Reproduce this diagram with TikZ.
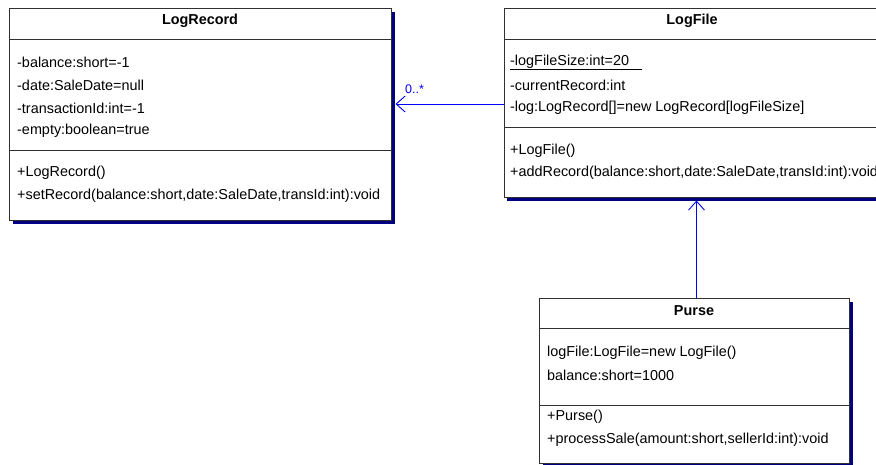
\documentclass[tikz,border=0pt]{standalone}
\usepackage{fontspec}
\setmainfont{Liberation Sans}
\usetikzlibrary{arrows.meta}
\definecolor{boxline}{HTML}{303030}
\definecolor{shadowc}{HTML}{000080}
\definecolor{assoc}{HTML}{0000FF}
\tikzset{
  classbox/.style={draw=boxline, line width=1pt, fill=white, anchor=north west, inner sep=0pt},
  shadowbox/.style={fill=shadowc, draw=none, anchor=north west, inner sep=0pt},
  sep/.style={draw=boxline, line width=1pt},
  title/.style={font=\fontsize{14.4}{16}\selectfont\bfseries, inner sep=0pt, anchor=center},
  member/.style={font=\fontsize{14.4}{16}\selectfont, inner sep=0pt, anchor=west},
  assocline/.style={draw=assoc, line width=0.9pt, -{Straight Barb[length=9pt,width=16pt,line width=0.9pt]}},
  mult/.style={font=\fontsize{12.5}{14}\selectfont, text=assoc, inner sep=0pt, anchor=west}
}
\begin{document}
\begin{tikzpicture}[x=1pt,y=-1pt]
\useasboundingbox (0,0) rectangle (876,464);
\clip (0,0) rectangle (876,464);
% LogRecord
\node[shadowbox, minimum width=382pt, minimum height=212pt] (lrs) at (13,12) {};
\node[classbox, minimum width=382pt, minimum height=212pt] (lr) at (9,8) {};
\draw[sep] (9,39) -- (391,39);
\draw[sep] (9,150) -- (391,150);
\node[title] (lrt) at (200,21) {LogRecord};
\node[member] (lr1) at (17,62.5) {-balance:short=-1};
\node[member] (lr2) at (17,85.5) {-date:SaleDate=null};
\node[member] (lr3) at (17,108.5) {-transactionId:int=-1};
\node[member] (lr4) at (17,131) {-empty:boolean=true};
\node[member] (lr5) at (17,173) {+LogRecord()};
\node[member] (lr6) at (17,196) {+setRecord(balance:short,date:SaleDate,transId:int):void};
% LogFile
\node[shadowbox, minimum width=400pt, minimum height=189pt] (lfs) at (507,12) {};
\node[classbox, minimum width=400pt, minimum height=189pt] (lf) at (503.5,8) {};
\draw[sep] (503.5,39) -- (905,39);
\draw[sep] (503.5,127) -- (905,127);
\node[title] (lft) at (692,21) {LogFile};
\node[member] (lf1) at (510,62) {-logFileSize:int=20};
\draw[line width=0.7pt] (510,69.5) -- (642,69.5);
\node[member] (lf2) at (510,85.5) {-currentRecord:int};
\node[member] (lf3) at (510,108) {-log:LogRecord[]=new LogRecord[logFileSize]};
\node[member] (lf4) at (510,150.5) {+LogFile()};
\node[member] (lf5) at (510,173) {+addRecord(balance:short,date:SaleDate,transId:int):void};
% Purse
\node[shadowbox, minimum width=310pt, minimum height=165pt] (ps) at (543,301.5) {};
\node[classbox, minimum width=310pt, minimum height=165pt] (p) at (539,297.5) {};
\draw[sep] (539,328.5) -- (849,328.5);
\draw[sep] (539,405.5) -- (849,405.5);
\node[title] (pt) at (694,310.5) {Purse};
\node[member] (p1) at (547,352.5) {logFile:LogFile=new LogFile()};
\node[member] (p2) at (547,375) {balance:short=1000};
\node[member] (p3) at (547,416.5) {+Purse()};
\node[member] (p4) at (547,439.5) {+processSale(amount:short,sellerId:int):void};
% associations
\coordinate (a1) at (503.5,104);
\coordinate (a1e) at (395.5,104);
\draw[assocline] (a1) -- (a1e);
\node[mult] (m1) at (405,89) {0..*};
\coordinate (a2) at (696.5,297.5);
\coordinate (a2e) at (696.5,200.5);
\draw[assocline] (a2) -- (a2e);
\end{tikzpicture}
\end{document}
